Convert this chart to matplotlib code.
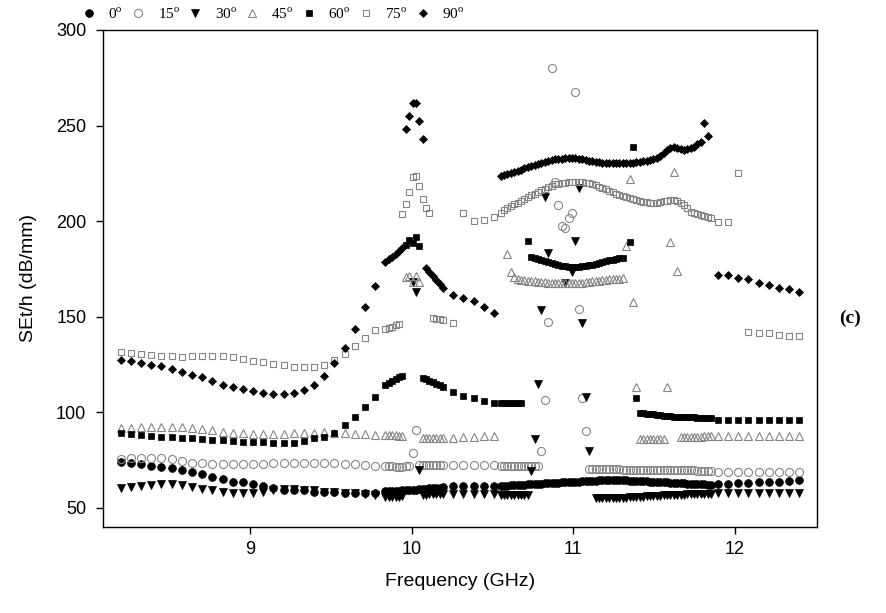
import numpy as np
import matplotlib
matplotlib.use("Agg")
import matplotlib.pyplot as plt
from matplotlib.lines import Line2D

plt.rcParams["mathtext.fontset"] = "custom"
plt.rcParams["mathtext.rm"] = "Liberation Serif"

# 201-point X-band sweep, 8.2-12.4 GHz
sweep = np.linspace(8.2, 12.4, 201)

# sweep points kept in the plot (every 3rd point away from the resonances)
idx_s1 = list(range(0, 76, 3))
idx_d1 = list(range(78, 96))
idx_s2 = list(range(98, 111, 3))
idx_d2 = list(range(112, 175))
idx_s3 = list(range(176, 201, 3))
freq = sweep[idx_s1 + idx_d1 + idx_s2 + idx_d2 + idx_s3]

N = None  # point outside the plotted range

se_0 = [
    74.2, 73.4, 72.8, 72.1, 71.3, 70.8, 69.9, 69.0, 67.8, 66.4, 65.0, 63.8, 63.3,
    62.6, 61.5, 60.3, 59.4, 59.1, 59.1, 58.5, 58.5, 58.5, 58.0, 58.0, 57.7, 57.7,
    58.6, 58.7, 58.8, 58.9, 59.0, 59.1, 59.2, 59.3, 59.5, 59.6, 59.8, 59.9, 60.1,
    60.2, 60.4, 60.5, 60.6, 60.8,
    61.2, 61.4, 61.5, 61.5, 61.3,
    61.5, 61.6, 61.7, 61.8, 61.9, 62.0, 62.1, 62.2, 62.3, 62.4, 62.5, 62.6, 62.7, 62.8,
    62.9, 63.0, 63.1, 63.2, 63.3, 63.4, 63.5, 63.6, 63.7, 63.8, 63.9, 64.0, 64.1, 64.2,
    64.3, 64.4,
    64.4, 64.5, 64.5, 64.5, 64.5, 64.5, 64.4, 64.4, 64.3, 64.3, 64.2, 64.1, 64.0, 63.9,
    63.8, 63.7, 63.6, 63.5, 63.4, 63.3, 63.2, 63.1, 63.0, 62.9, 62.8, 62.7, 62.6, 62.5,
    62.4, 62.3, 62.3, 62.2, 62.2,
    62.6, 62.6, 62.9, 62.9, 63.3, 63.6, 63.8, 64.3, 64.6,
]

se_15 = [
    75.5, 76.0, 76.3, 76.3, 76.0, 75.5, 74.7, 73.7, 73.4, 73.0, 72.8, 72.8, 72.8,
    73.0, 73.0, 73.4, 73.4, 73.7, 73.7, 73.7, 73.7, 73.4, 73.0, 72.8, 72.5, 72.1,
    72.0, 71.8, 71.7, 71.6, 71.6, 71.6, 71.7, 71.8, 78.9, 91.0, 72.2, 72.3, 72.3,
    72.4, 72.4, 72.5, 72.5, 72.5,
    72.5, 72.5, 72.5, 72.5, 72.5,
    72.0, 72.0, 72.0, 72.0, 71.9, 71.9, 71.9, 71.9, 71.8, 71.8, 71.8, 71.8,
    79.5, 106.5, 147.4, 280.0, 220.7, 208.5, 197.5, 196.3, 201.5, 204.4, 267.4, 154.0,
    107.4, 90.0,
    70.3, 70.3, 70.2, 70.2, 70.2, 70.2, 70.1, 70.1, 70.1, 70.1, 70.0, 70.0, 70.0, 70.0,
    69.9, 69.9, 69.9, 69.9, 69.8, 69.8, 69.8, 69.8, 69.7, 69.7, 69.7, 69.7, 69.7, 69.6,
    69.6, 69.6, 69.6, 69.6, 69.5, 69.5, 69.5, 69.5, 69.5,
    68.9, 68.9, 68.8, 68.8, 68.8, 68.8, 68.8, 68.8, 68.8,
]

se_30 = [
    60.3, 60.8, 61.5, 62.0, 62.6, 62.6, 62.0, 60.8, 59.8, 59.1, 58.5, 58.0, 58.0,
    58.0, 58.5, 59.4, 59.8, 59.8, 59.1, 59.1, 58.5, 58.5, 58.0, 57.7, 57.3, 56.8,
    55.9, 55.8, 55.8, 55.8, 55.9, 56.0, N, N, 168.4, 163.0, 70.0, 56.8, 57.0,
    57.1, 57.2, 57.3, 57.3, 57.4,
    57.3, 57.4, 57.5, 57.5, 57.4,
    57.0, 57.0, 57.0, 56.9, 56.9, 56.8, 56.8, 56.7, 56.7,
    69.5, 86.0, 115.0, 153.6, 212.8, 183.5, N, N, N, N, 167.5, N, 173.6, 189.8,
    217.2, 146.6, 108.2, 79.5, N,
    55.0, 55.0, 55.1, 55.1, 55.2, 55.2, 55.3, 55.3, 55.4, 55.4, 55.5, 55.6, 55.7, 55.8,
    55.9, 56.0, 56.1, 56.2, 56.3, 56.4, 56.5, 56.6, 56.7, 56.8, 56.9, 57.0, 57.0, 57.1,
    57.1, 57.2, 57.2, 57.3, 57.3, 57.3, 57.3,
    57.8, 57.8, 57.9, 57.9, 58.0, 58.0, 58.0, 58.0, 58.0,
]

se_45 = [
    92.0, 92.0, 92.2, 92.2, 92.5, 92.5, 92.2, 91.7, 91.3, 90.8, 89.9, 89.4, 89.1,
    88.7, 88.7, 88.7, 88.7, 89.1, 89.4, 89.4, 89.9, 89.4, 89.1, 88.7, 88.4, 88.2,
    88.0, 88.0, 87.9, 87.9, 87.8, 87.8, 171.0, 171.3, 168.4, 171.3, 168.4, 86.3, 86.3,
    86.4, 86.4, 86.5, 86.5, 86.6,
    86.8, 87.0, 87.3, 87.5, 87.7,
    N, N, 182.8, 173.6, 171.0,
    169.5, 169.3, 169.1, 168.9, 168.7, 168.5, 168.3, 168.1, 168.0, 167.9, 167.8, 167.7,
    167.6, 167.5, 167.5, 167.5, 167.6, 167.7, 167.8, 167.9, 168.1, 168.3, 168.5, 168.7,
    168.9, 169.1, 169.3, 169.5, 169.7, 169.9, 170.0, 170.2,
    187.0, 221.9, 157.9, 113.1,
    86.0, 85.9, 85.9, 85.8, 85.8, 85.8, 85.9, 85.9,
    113.1, 189.0, 225.9, 174.0,
    87.0, 87.1, 87.1, 87.2, 87.2, 87.3, 87.3, 87.4, 87.4, 87.5,
    87.7, 87.7, 87.7, 87.7, 87.7, 87.7, 87.7, 87.7, 87.7,
]

se_60 = [
    89.4, 88.7, 88.2, 87.7, 87.3, 87.0, 86.6, 86.3, 85.9, 85.6, 85.3, 84.8, 84.5,
    84.5, 84.5, 84.2, 83.8, 84.2, 85.2, 86.3, 87.3, 89.4, 93.4, 97.8, 103.0, 107.9,
    114.3, 115.5, 116.5, 117.5, 118.3, 119.0, 187.6, 190.2, 188.4, 191.5, 187.0, 118.0,
    117.3, 116.5, 115.8, 115.0, 114.2, 113.5,
    110.8, 108.7, 107.3, 106.0, 105.1,
    105.0, 104.9, 104.9, 104.8, 104.8, 104.7, 104.7, N, 189.8,
    181.4, 180.9, 180.3, 179.7, 179.1, 178.5, 178.0, 177.5, 177.0, 176.7, 176.4, 176.2,
    176.1, 176.1, 176.2, 176.4, 176.6, 176.9, 177.2, 177.6, 178.0, 178.5, 179.0, 179.5,
    179.9, 180.3, 180.6, 180.8,
    N, 189.3, 239.0, 107.4,
    99.7, 99.5, 99.3, 99.1, 98.9, 98.7, 98.5, 98.3, 98.1, 97.9, 97.8, 97.7, 97.6, 97.5,
    97.4, 97.3, 97.3, 97.2, 97.2, 97.1, 97.1, 97.1,
    96.2, 96.1, 96.0, 96.0, 95.9, 95.9, 95.8, 95.8, 95.8,
]

se_75 = [
    131.8, 130.9, 130.4, 130.0, 129.7, 129.5, 129.1, 129.7, 129.7, 129.7, 129.5, 128.8,
    127.8, 127.0, 126.5, 125.3, 124.6, 123.9, 123.9, 123.9, 124.6, 127.4, 130.5, 134.7,
    138.7, 143.1,
    143.5, 144.0, 144.8, 145.5, 146.2, 203.6, 208.8, 215.4, 223.3, 223.6, 218.6, 211.4,
    206.7, 204.4, 149.5, 149.0, 148.7, 148.5,
    146.6, 204.1, 200.3, 200.6, 202.4,
    204.1, 205.9, 206.7, 208.0, 209.0, 209.7,
    210.7, 211.7, 212.6, 213.5, 214.4, 215.3, 216.2, 217.0, 217.8, 218.6,
    219.2, 219.6, 219.9, 220.2, 220.4, 220.6, 220.7, 220.7,
    220.5, 220.2, 219.8, 219.3, 218.7, 218.0, 217.3, 216.6, 215.8, 215.0, 214.3, 213.7,
    213.1, 212.6, 212.1, 211.6, 211.1, 210.6, 210.2, 209.8, 209.5, 209.4,
    209.6, 209.9, 210.4, 210.8, 211.1, 211.1,
    210.5, 209.5, 208.2, 206.7, 205.0, 204.2, 203.5, 203.0, 202.5, 202.0, 201.5,
    199.7, 199.7, 225.0, 142.0, 141.7, 141.6, 140.5, 140.1, 140.1,
]

se_90 = [
    127.4, 127.0, 126.0, 124.8, 124.3, 122.9, 121.1, 119.6, 118.4, 116.6, 114.3, 113.1,
    112.1, 111.4, 110.3, 109.6, 109.6, 110.3, 111.7, 114.3, 119.0, 125.7, 133.5, 143.5,
    155.0, 166.3,
    178.5, 180.0, 181.5, 183.0, 184.5, 186.0, 248.0, 255.2, 262.0, 261.7, 252.6, 242.8,
    175.4, 173.2, 171.1, 169.0, 167.0, 165.0,
    161.4, 159.7, 158.0, 155.3, 152.0,
    223.5, 224.0, 224.6, 225.2, 225.8, 226.4, 227.0, 227.6, 228.2, 228.8, 229.4, 230.0,
    230.5, 231.0, 231.5, 232.0, 232.3, 232.5, 232.7, 232.8, 232.9, 232.9, 232.9, 232.7,
    232.4, 232.1, 231.7, 231.3, 231.0, 230.8, 230.6, 230.4, 230.3, 230.2, 230.2, 230.2,
    230.2, 230.3, 230.3, 230.5, 230.7, 231.0, 231.3, 231.7, 232.2, 232.7, 233.2, 234.0,
    235.5, 237.0, 238.3, 239.0, 238.3, 237.5, 237.2, 237.6, 238.3, 239.0, 240.5, 241.6,
    251.2, 244.6, N,
    171.9, 171.9, 170.5, 169.6, 167.9, 166.6, 164.9, 164.4, 163.1,
]

angles = ["0", "15", "30", "45", "60", "75", "90"]
series = [se_0, se_15, se_30, se_45, se_60, se_75, se_90]

GRAY = "#858585"
marker_styles = [
    dict(marker="o", ms=5.6, mfc="black", mec="black", mew=0.5),
    dict(marker="o", ms=5.8, mfc="none", mec=GRAY, mew=0.8),
    dict(marker="v", ms=5.8, mfc="black", mec="black", mew=0.5),
    dict(marker="^", ms=5.8, mfc="none", mec=GRAY, mew=0.8),
    dict(marker="s", ms=5.0, mfc="black", mec="black", mew=0.5),
    dict(marker="s", ms=5.0, mfc="none", mec=GRAY, mew=0.8),
    dict(marker="D", ms=4.5, mfc="black", mec="black", mew=0.5),
]

fig = plt.figure(figsize=(8.86, 6.13), dpi=100)
ax = fig.add_axes([103 / 886, 1 - 527 / 613, 714 / 886, 497 / 613])

for vals, st in zip(series, marker_styles):
    y = np.array(vals, dtype=float)
    ax.plot(freq, y, linestyle="none", **st)

ax.set_xlim(8.09, 12.51)
ax.set_ylim(40, 300)
ax.set_xticks([9, 10, 11, 12])
ax.set_yticks([50, 100, 150, 200, 250, 300])
ax.tick_params(direction="out", length=5, width=1, labelsize=13, pad=5)
ax.tick_params(axis="y", pad=7)
for lab in ax.get_xticklabels() + ax.get_yticklabels():
    lab.set_family("Liberation Sans")
for sp in ax.spines.values():
    sp.set_linewidth(1.0)

ax.set_xlabel("Frequency (GHz)", family="Liberation Sans", fontsize=14, labelpad=11)
ax.set_ylabel("SEt/h (dB/mm)", family="Liberation Sans", fontsize=14, labelpad=14)

fig.text(850 / 886, 1 - 318 / 613, "(c)", family="Liberation Serif",
         fontweight="bold", fontsize=14, ha="center", va="center")

handles = [Line2D([], [], linestyle="none", **st) for st in marker_styles]
labels = [a + r"$^{\mathrm{o}}$" for a in angles]
fig.legend(handles, labels, ncol=7, loc="center left",
           bbox_to_anchor=(83 / 886, 1 - 14 / 613), frameon=False,
           prop={"family": "Liberation Serif", "size": 11},
           handlelength=0.8, handletextpad=0.85, columnspacing=0.62,
           borderpad=0, borderaxespad=0)

fig.savefig("out.png", dpi=100)
